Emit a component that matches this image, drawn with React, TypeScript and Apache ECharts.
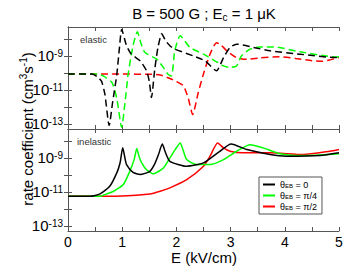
import React, { useEffect, useRef } from "react";
import * as echarts from "echarts";

// ---- data (log10 of rate coefficient, cm^3 s^-1) ----
const elBlackX = [0, 0.44, 0.55, 0.62, 0.68, 0.76, 0.82, 0.9, 0.95, 0.99, 1.08, 1.17, 1.33, 1.45, 1.5, 1.54, 1.6, 1.66, 1.73, 1.8, 1.88, 1.97, 2.31, 2.53, 2.74, 2.87, 2.99, 3.11, 3.42, 3.73, 4.28, 4.96, 5];
const elBlackY = [-10.07, -10.07, -10.25, -10.5, -11.25, -13.1, -11.8, -10.1, -8.5, -7.45, -8.4, -8.9, -9.29, -9.88, -10.5, -11.45, -9.8, -8.5, -7.7, -8.1, -8.4, -8.6, -9.0, -9.29, -9.88, -9.1, -8.5, -8.31, -8.5, -8.7, -8.9, -9.1, -9.1];

const elGreenX = [0, 0.55, 0.65, 0.81, 0.9, 0.99, 1.05, 1.11, 1.2, 1.28, 1.35, 1.42, 1.64, 1.76, 1.85, 1.91, 1.97, 2.07, 2.25, 2.5, 2.71, 2.87, 2.99, 3.11, 3.2, 3.36, 3.54, 3.79, 4.28, 4.94, 5];
const elGreenY = [-10.07, -10.07, -10.18, -10.56, -11.5, -13.2, -11.8, -10.07, -8.4, -7.58, -8.3, -8.8, -9.2, -9.68, -10.1, -10.18, -8.7, -7.82, -8.5, -8.9, -9.29, -9.59, -9.68, -9.59, -9.0, -8.6, -8.47, -8.47, -8.76, -9.06, -9.05];

const elRedX = [0, 0.5, 1, 1.5, 1.7, 1.88, 2.0, 2.13, 2.22, 2.3, 2.4, 2.5, 2.62, 2.74, 2.82, 2.93, 3.11, 3.3, 3.54, 3.9, 4.2, 4.5, 4.7, 4.85, 5];
const elRedY = [-10.07, -10.07, -10.07, -10.08, -10.12, -10.33, -10.5, -10.76, -11.5, -12.45, -11.2, -10.05, -8.9, -8.22, -8.35, -8.7, -9.1, -9.2, -9.12, -9.05, -9.15, -9.28, -9.32, -9.22, -9.1];

const inBlackX = [0, 0.41, 0.59, 0.77, 0.9, 0.96, 1.01, 1.05, 1.08, 1.2, 1.33, 1.51, 1.6, 1.67, 1.74, 1.8, 1.88, 2.19, 2.5, 2.8, 3.01, 3.3, 3.73, 4.03, 4.65, 5];
const inBlackY = [-11.26, -11.26, -11.12, -10.67, -9.88, -9.3, -8.41, -9.0, -9.39, -9.85, -9.98, -9.79, -9.35, -8.8, -8.18, -8.7, -9.2, -9.49, -9.29, -8.61, -8.18, -8.51, -8.8, -8.9, -8.86, -8.7];

const inGreenX = [0, 0.6, 0.65, 0.84, 1.02, 1.14, 1.22, 1.27, 1.31, 1.36, 1.45, 1.57, 1.76, 1.88, 1.98, 2.07, 2.12, 2.19, 2.37, 2.62, 2.87, 3.11, 3.36, 3.6, 3.91, 4.34, 5];
const inGreenY = [-11.26, -11.26, -11.2, -10.96, -10.57, -9.79, -9.1, -8.45, -8.9, -9.29, -9.7, -9.94, -9.59, -9.0, -8.5, -8.12, -8.5, -9.1, -9.39, -9.39, -9.1, -8.61, -8.22, -8.41, -8.75, -8.86, -8.75];

const inRedX = [0, 1.0, 1.51, 1.7, 1.88, 2.19, 2.5, 2.62, 2.76, 2.87, 2.99, 3.23, 3.73, 4.34, 4.83, 5];
const inRedY = [-11.26, -11.24, -11.12, -10.96, -10.76, -10.28, -9.49, -8.9, -8.12, -8.41, -8.61, -8.7, -8.7, -8.8, -8.61, -8.51];

const legendNames = ["θEB = 0", "θEB = π/4", "θEB = π/2"];
const legendRich = ["{t|θ}{s|EB}{t| = 0}", "{t|θ}{s|EB}{t| = π/4}", "{t|θ}{s|EB}{t| = π/2}"];
const colors = ["#000000", "#00ff00", "#ff0000"];
const yTicks = [-13, -12, -11, -10, -9, -8];
const yLabels = [-13, -11, -9];
const Y_MIN = -13.3;
const Y_MAX = -7.3;

const FONT = "Liberation Sans, Arial, Helvetica, sans-serif";

const zip = (xs: number[], ys: number[]) => xs.map((x, i) => [x, ys[i]]);

export default function App() {
  const ref = useRef<HTMLDivElement>(null);
  useEffect(() => {
    if (!ref.current) return;
    const chart = echarts.init(ref.current, undefined, { renderer: "svg" });
    const axisLine = { show: true, lineStyle: { color: "#555", width: 1 } };
    const tick = { show: true, inside: true, length: 4, lineStyle: { color: "#555" } };
    const yLabelStyle = {
      show: true, customValues: yLabels, margin: 5, color: "#000",
      showMinLabel: true, showMaxLabel: true, hideOverlap: false,
      formatter: (v: number) => `{b|10}{s|${Math.round(v)}}`,
      rich: {
        b: { fontSize: 15, fontFamily: FONT, color: "#000", lineHeight: 14 },
        s: { fontSize: 10, fontFamily: FONT, color: "#000", verticalAlign: "top", lineHeight: 8 },
      },
    };
    const xAxes: any[] = [];
    const yAxes: any[] = [];
    [0, 1].forEach((g) => {
      xAxes.push({
        type: "value", gridIndex: g, min: 0, max: 5, interval: 0.5, position: "bottom",
        axisLine, axisTick: tick, splitLine: { show: false },
        axisLabel: g === 1 ? {
          show: true, fontSize: 14, color: "#000", fontFamily: FONT, margin: 4, lineHeight: 13,
          formatter: (v: number) => (Number.isInteger(v) ? String(v) : ""),
        } : { show: false },
      });
      xAxes.push({
        type: "value", gridIndex: g, min: 0, max: 5, interval: 0.5, position: "top",
        axisLine, axisTick: tick, splitLine: { show: false }, axisLabel: { show: false },
      });
      yAxes.push({
        type: "value", gridIndex: g, min: Y_MIN, max: Y_MAX, position: "left",
        axisLine, axisTick: { ...tick, customValues: yTicks }, splitLine: { show: false },
        axisLabel: g === 1 ? yLabelStyle : { show: false },
      });
      yAxes.push({
        type: "value", gridIndex: g, min: Y_MIN, max: Y_MAX, position: "right",
        axisLine, axisTick: { ...tick, customValues: yTicks }, splitLine: { show: false },
        axisLabel: { show: false },
      });
    });
    // label-only axes for the upper panel, on their own grid with the same rectangle
    xAxes.push({ type: "value", gridIndex: 2, min: 0, max: 5, show: false });
    yAxes.push({
      type: "value", gridIndex: 2, min: Y_MIN, max: Y_MAX, position: "left",
      axisLine: { show: false }, axisTick: { show: false }, splitLine: { show: false },
      axisLabel: yLabelStyle,
    });

    const mk = (name: string | undefined, data: number[][], color: string, g: number, dashed: boolean) => ({
      type: "line", name, data, xAxisIndex: g * 2, yAxisIndex: g * 2,
      showSymbol: false, symbol: "none", smooth: 0.2, clip: true,
      lineStyle: { color, width: 1.5, type: dashed ? [7, 4] : "solid" },
      itemStyle: { color },
    });

    chart.setOption({
      animation: false,
      grid: [
        { left: 68, right: 14, top: 27, height: 102 },
        { left: 68, right: 14, top: 129, height: 102 },
        { left: 68, right: 14, top: 27, height: 102 },
      ],
      xAxis: xAxes,
      yAxis: yAxes,
      legend: {
        data: legendNames, orient: "vertical", left: 259, top: 177,
        icon: "rect", itemWidth: 12, itemHeight: 2, itemGap: 2,
        padding: [3, 5, 3, 4], borderColor: "#555", borderWidth: 1, backgroundColor: "#fff",
        formatter: (n: string) => legendRich[legendNames.indexOf(n)],
        textStyle: {
          fontSize: 9, fontFamily: FONT, color: "#000",
          rich: {
            t: { fontSize: 9, fontFamily: FONT, color: "#000" },
            s: { fontSize: 6, fontFamily: FONT, color: "#000", verticalAlign: "bottom", lineHeight: 8 },
          },
        },
      },
      series: [
        mk(undefined, zip(elRedX, elRedY), colors[2], 0, true),
        mk(undefined, zip(elGreenX, elGreenY), colors[1], 0, true),
        mk(undefined, zip(elBlackX, elBlackY), colors[0], 0, true),
        mk(legendNames[2], zip(inRedX, inRedY), colors[2], 1, false),
        mk(legendNames[1], zip(inGreenX, inGreenY), colors[1], 1, false),
        mk(legendNames[0], zip(inBlackX, inBlackY), colors[0], 1, false),
      ],
      graphic: [
        {
          type: "text", x: 204, y: 13,
          style: {
            text: "{m|B = 500 G ; E}{c|c}{m| = 1 μK}", align: "center", verticalAlign: "middle",
            rich: {
              m: { fontSize: 15, fontFamily: FONT, fill: "#000", lineHeight: 18 },
              c: { fontSize: 10, fontFamily: FONT, fill: "#000", verticalAlign: "bottom", lineHeight: 12 },
            },
          },
        },
        {
          type: "text", x: 27, y: 129, rotation: Math.PI / 2,
          style: {
            text: "{m|rate coefficient (cm}{p|3}{m|s}{p|-1}{m|)}", align: "center", verticalAlign: "middle",
            rich: {
              m: { fontSize: 15, fontFamily: FONT, fill: "#000", lineHeight: 18 },
              p: { fontSize: 10, fontFamily: FONT, fill: "#000", verticalAlign: "top", lineHeight: 10 },
            },
          },
        },
        {
          type: "text", x: 204, y: 257,
          style: { text: "E (kV/cm)", fontSize: 15, lineHeight: 15, fontFamily: FONT, fill: "#000", align: "center", verticalAlign: "middle" },
        },
        {
          type: "text", x: 80, y: 39,
          style: { text: "elastic", fontSize: 9.5, fontFamily: FONT, fill: "#333", align: "left", verticalAlign: "middle" },
        },
        {
          type: "text", x: 77, y: 141,
          style: { text: "inelastic", fontSize: 9.5, fontFamily: FONT, fill: "#333", align: "left", verticalAlign: "middle" },
        },
      ],
    });
    return () => chart.dispose();
  }, []);
  return <div ref={ref} style={{ width: 353, height: 273, position: "absolute", left: 0, top: 0 }} />;
}
